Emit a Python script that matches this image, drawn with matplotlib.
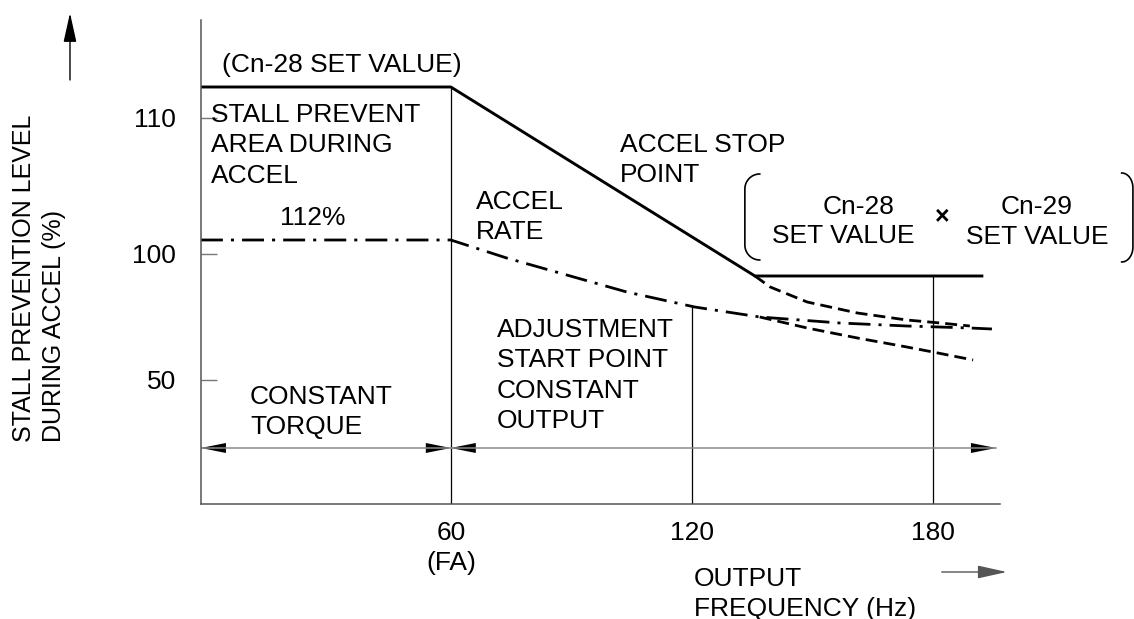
import numpy as np
import matplotlib
matplotlib.use("Agg")
import matplotlib.pyplot as plt
from matplotlib.patches import FancyArrowPatch, ArrowStyle

plt.rcParams['font.family'] = ['Liberation Sans', 'DejaVu Sans']
FS = 19
LS = 1.33

# level axis is in diagram units (the drawing is not to scale)
stop_hz = [-2.2, 60, 135.7, 192.2]
stop_lv = [166.8, 166.8, 91.2, 91.2]

rate_hz = [-2.2, 60, 73.9, 87.1, 103.8, 120.7, 136.9, 156.8, 173.5, 189.2, 194.7]
rate_lv = [105.6, 105.6, 98.4, 92.4, 84.8, 78.8, 74.8, 72.4, 71.2, 70.4, 70.0]

upper_hz = [135.7, 139.5, 148.7, 161.2, 173.5, 181.8, 189.2]
upper_lv = [91.2, 86.8, 80.8, 76.4, 73.6, 72.4, 71.2]

lower_hz = [136.9, 148.7, 161.2, 173.5, 180.0, 190.0]
lower_lv = [74.8, 70.4, 66.4, 62.8, 60.8, 57.6]

guide_hz = [60, 120, 180]
guide_top = [166.8, 78.8, 91.2]
freq_labels = ["60\n(FA)", "120", "180"]

level_ticks = [49.6, 100, 154.4]
level_labels = ["50", "100", "110"]

region_lv = 22.4
regions = [(-2.2, 60), (60, 195.7)]

fig = plt.figure(figsize=(11.34, 6.19), dpi=100)
ax = fig.add_axes([0.1772, 0.1858, 0.7046, 0.7819])
ax.set_xlim(-2.2, 196.7)
ax.set_ylim(0, 193.6)

for s in ["top", "right"]:
    ax.spines[s].set_visible(False)
for s in ["left", "bottom"]:
    ax.spines[s].set_color("#555555")
    ax.spines[s].set_linewidth(1.1)

ax.set_yticks(level_ticks, level_labels)
ax.set_xticks(guide_hz, freq_labels)
ax.tick_params(axis="y", direction="in", length=11.5, width=1, color="#777777",
               labelsize=FS, pad=18)
ax.tick_params(axis="x", length=0, labelsize=FS, pad=12)
for lab in ax.get_xticklabels():
    lab.set_linespacing(LS)

ax.vlines(guide_hz, 0, guide_top, color="black", lw=0.9)

ax.plot(stop_hz, stop_lv, color="black", lw=2.1, solid_joinstyle="miter")
ax.plot(rate_hz, rate_lv, color="black", lw=2.0, ls=(0, (7.9, 2.9, 1.1, 2.9)))
ax.plot(upper_hz, upper_lv, color="black", lw=2.0, ls=(0, (4.3, 2.2)))
ax.plot(lower_hz, lower_lv, color="black", lw=2.0, ls=(0, (4.3, 2.2)))

# region dimension arrows
head = ArrowStyle("<|-|>", head_length=18, head_width=3.6)
for x0, x1 in regions:
    ax.plot([x0, x1], [region_lv, region_lv], color="#8a8a8a", lw=1.1)
    ax.add_patch(FancyArrowPatch((x0, region_lv), (x1, region_lv), arrowstyle=head,
                                 mutation_scale=1, lw=0, color="black",
                                 shrinkA=0, shrinkB=0))

# axis direction arrows
one = ArrowStyle("-|>", head_length=18, head_width=4)
ax.add_patch(FancyArrowPatch((-34.8, 169.6), (-34.8, 196.4), arrowstyle=one,
                             mutation_scale=1, lw=1, color="black",
                             shrinkA=0, shrinkB=0, clip_on=False))
ax.add_patch(FancyArrowPatch((182.2, -27.2), (198.4, -27.2), arrowstyle=one,
                             mutation_scale=1, lw=1, color="#555555",
                             shrinkA=0, shrinkB=0, clip_on=False))

txt = dict(fontsize=FS, linespacing=LS, va="top", clip_on=False)
ax.text(3.0, 180.4, "(Cn-28 SET VALUE)", ha="left", **txt)
ax.text(0.25, 160.4, "STALL PREVENT\nAREA DURING\nACCEL", ha="left", **txt)
ax.text(25.6, 119.2, "112%", ha="center", **txt)
ax.text(102.1, 148.4, "ACCEL STOP\nPOINT", ha="left", **txt)
ax.text(66.2, 125.6, "ACCEL\nRATE", ha="left", **txt)
ax.text(71.5, 74.4, "ADJUSTMENT\nSTART POINT\nCONSTANT\nOUTPUT", ha="left", **txt)
ax.text(10.0, 47.6, "CONSTANT\nTORQUE", ha="left", **txt)
ax.text(161.6, 123.6, "Cn-28", ha="center", **txt)
ax.text(157.8, 111.8, "SET VALUE", ha="center", **txt)
ax.text(205.9, 123.6, "Cn-29\nSET VALUE", ha="center", multialignment="center", **txt)
ax.text(182.3, 114.8, "×", ha="center", va="center", fontsize=18, fontweight="bold",
        clip_on=False)
ax.text(120.5, -25.2, "OUTPUT\nFREQUENCY (Hz)", ha="left", fontsize=FS, linespacing=1.3,
        va="top", clip_on=False)


def bracket(x_end, x_mid, y_top, y_bot, ry=6.0):
    # rounded "(" / ")" made of two quarter arcs and a straight side
    t = np.linspace(0, np.pi / 2, 20)
    rx = x_end - x_mid
    top_x = x_end - rx * np.sin(t)
    top_y = y_top - ry + ry * np.cos(t)
    bot_y = y_bot + ry - ry * np.cos(t)
    xs = np.concatenate([top_x, top_x[::-1]])
    ys = np.concatenate([top_y, bot_y[::-1]])
    ax.plot(xs, ys, color="black", lw=1.2, clip_on=False)


bracket(136.9, 133.2, 132.0, 97.6)
bracket(227.0, 229.8, 132.4, 96.8)

fig.text(0.0345, 0.286, "STALL PREVENTION LEVEL\nDURING ACCEL (%)", rotation=90,
         ha="center", va="bottom", multialignment="left", fontsize=18, linespacing=LS)

fig.savefig("out.png", dpi=100)
